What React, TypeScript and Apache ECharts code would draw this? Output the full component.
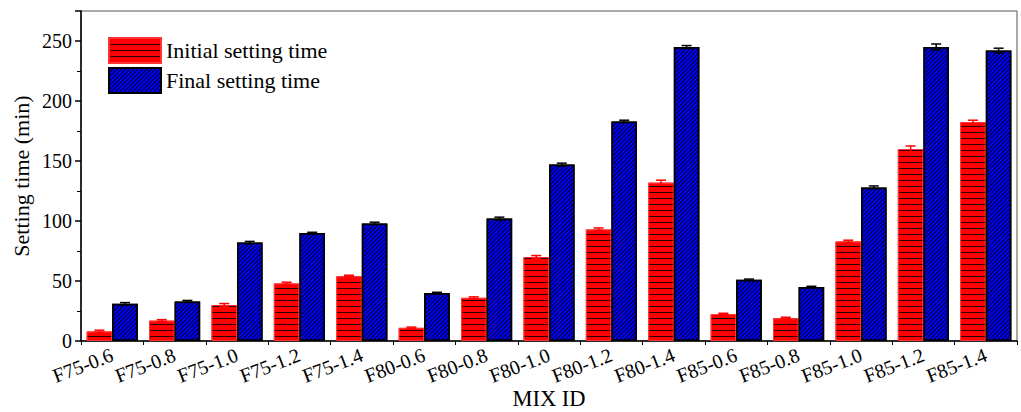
import React, { useEffect, useRef } from "react";
import * as echarts from "echarts";

const categories = [
  "F75-0.6", "F75-0.8", "F75-1.0", "F75-1.2", "F75-1.4",
  "F80-0.6", "F80-0.8", "F80-1.0", "F80-1.2", "F80-1.4",
  "F85-0.6", "F85-0.8", "F85-1.0", "F85-1.2", "F85-1.4",
];
const initialSetting = [8, 17, 30, 48, 54, 11, 36, 70, 93, 132, 22.5, 19, 83, 160, 182.5];
const initialError = [1, 0.8, 1.2, 1, 0.8, 0.6, 0.8, 1.2, 1.2, 2, 0.6, 0.8, 1, 2.5, 1.5];
const finalSetting = [31, 33, 82, 90, 98, 40, 102, 147, 183, 245, 51, 45, 128, 245, 242];
const finalError = [1, 0.8, 1, 0.6, 1, 0.6, 1.2, 1.2, 1, 1.2, 0.6, 0.6, 1.2, 2.5, 2];
const yMin = 0;
const yMax = 275;
const yInterval = 50;

const FONT = "'Liberation Serif', 'Times New Roman', serif";
const BAR_FRAC = 0.41;

function errorSeries(name: string, values: number[], errors: number[], sign: number, color: string) {
  return {
    name: name + " error",
    type: "custom",
    xAxisIndex: 0,
    yAxisIndex: 0,
    z: 5,
    silent: true,
    data: values.map((v, i) => [i, v, errors[i]]),
    renderItem: (params: any, api: any) => {
      const i = api.value(0);
      const v = api.value(1);
      const e = api.value(2);
      const band = api.size([1, 0])[0];
      const off = (sign * band * BAR_FRAC) / 2;
      const top = api.coord([i, v + e]);
      const bot = api.coord([i, v - e]);
      const x = top[0] + off;
      const cap = 5;
      const st = { stroke: color, lineWidth: 1.5 };
      return {
        type: "group",
        children: [
          { type: "line", shape: { x1: x, y1: top[1], x2: x, y2: bot[1] }, style: st },
          { type: "line", shape: { x1: x - cap, y1: top[1], x2: x + cap, y2: top[1] }, style: st },
          { type: "line", shape: { x1: x - cap, y1: bot[1], x2: x + cap, y2: bot[1] }, style: st },
        ],
      };
    },
  };
}

export default function App() {
  const ref = useRef<HTMLDivElement>(null);
  useEffect(() => {
    if (!ref.current) return;
    const chart = echarts.init(ref.current, null, { renderer: "svg" });
    chart.setOption({
      animation: false,
      backgroundColor: "#ffffff",
      textStyle: { fontFamily: FONT },
      grid: {
        left: 81,
        right: 4,
        top: 11,
        bottom: 71,
        show: true,
        borderColor: "#555",
        borderWidth: 1,
        outerBoundsMode: "none",
        containLabel: false,
      },
      legend: {
        orient: "vertical",
        left: 108,
        top: 37,
        padding: 0,
        itemWidth: 52,
        itemHeight: 25,
        itemGap: 3,
        icon: "rect",
        textStyle: { fontFamily: FONT, fontSize: 22, color: "#000" },
        data: ["Initial setting time", "Final setting time"],
      },
      xAxis: [
        {
          type: "category",
          data: categories,
          position: "bottom",
          name: "MIX ID",
          nameLocation: "middle",
          nameGap: 46,
          nameMoveOverlap: false,
          nameTextStyle: { fontFamily: FONT, fontSize: 22.5, color: "#000" },
          axisLine: { lineStyle: { color: "#000", width: 1.5 } },
          axisTick: { alignWithLabel: true, length: 7, interval: 0, lineStyle: { color: "#000", width: 1.5 } },
          axisLabel: { interval: 0, rotate: 21, fontFamily: FONT, fontSize: 20, color: "#000", margin: 13 },
        },
        {
          type: "category",
          data: categories,
          position: "bottom",
          axisLine: { show: false },
          axisTick: { show: true, interval: 0, length: 4, lineStyle: { color: "#000", width: 1 } },
          axisLabel: { show: false },
        },
      ],
      yAxis: {
        type: "value",
        min: yMin,
        max: yMax,
        interval: yInterval,
        name: "Setting time (min)",
        nameLocation: "middle",
        nameGap: 49,
        nameMoveOverlap: false,
        nameTextStyle: { fontFamily: FONT, fontSize: 22, color: "#000" },
        axisLine: { show: true, lineStyle: { color: "#000", width: 1.5 } },
        axisTick: { show: true, length: 6, lineStyle: { color: "#000", width: 1.5 } },
        minorTick: { show: true, splitNumber: 2, length: 4, lineStyle: { color: "#000", width: 1 } },
        axisLabel: {
          fontFamily: FONT, fontSize: 20, color: "#000", margin: 9,
          formatter: (v: number) => (v > 250 ? "" : String(v)),
        },
        splitLine: { show: false },
      },
      series: [
        {
          name: "Initial setting time",
          type: "bar",
          data: initialSetting,
          barWidth: `${BAR_FRAC * 100}%`,
          barGap: "0%",
          itemStyle: {
            color: "#ff0000",
            borderColor: "#ff3333",
            borderWidth: 1,
            decal: {
              symbol: "rect",
              symbolSize: 1,
              color: "rgba(0,0,0,0.85)",
              dashArrayX: [10, 0],
              dashArrayY: [1, 5],
              rotation: 0,
            },
          },
        },
        {
          name: "Final setting time",
          type: "bar",
          data: finalSetting,
          barWidth: `${BAR_FRAC * 100}%`,
          barGap: "0%",
          itemStyle: {
            color: "#0000ff",
            borderColor: "#000",
            borderWidth: 1.5,
            decal: {
              symbol: "rect",
              symbolSize: 1,
              color: "rgba(0,0,0,0.9)",
              dashArrayX: [10, 0],
              dashArrayY: [1, 2],
              rotation: -Math.PI / 4,
            },
          },
        },
        errorSeries("Initial setting time", initialSetting, initialError, -1, "#ff0000"),
        errorSeries("Final setting time", finalSetting, finalError, 1, "#000000"),
      ],
    });
    return () => chart.dispose();
  }, []);
  return (
    <div
      ref={ref}
      style={{ position: "fixed", left: 0, top: 0, width: 1021, height: 412 }}
    />
  );
}
